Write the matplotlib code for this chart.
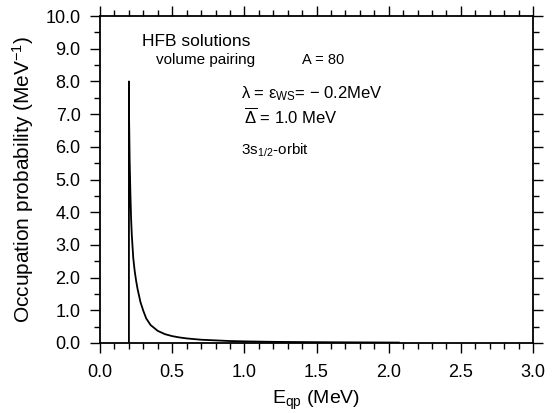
import matplotlib
matplotlib.use("Agg")
import matplotlib.pyplot as plt
from matplotlib.ticker import MultipleLocator, FormatStrFormatter

# occupation probability vs quasiparticle energy
e_qp = [0.200, 0.200, 0.201, 0.205, 0.210, 0.215, 0.220, 0.230, 0.240, 0.250,
        0.260, 0.280, 0.300, 0.320, 0.350, 0.400, 0.450, 0.500, 0.550, 0.600,
        0.700, 0.800, 0.900, 1.000, 1.200, 1.500, 1.800, 2.070]
occ = [0.0, 8.0, 6.9, 5.6, 4.6, 3.8, 3.3, 2.6, 2.2, 1.9,
       1.65, 1.25, 0.98, 0.75, 0.55, 0.37, 0.27, 0.21, 0.17, 0.14,
       0.10, 0.08, 0.06, 0.05, 0.035, 0.025, 0.018, 0.013]

plt.rcParams['font.family'] = ['Liberation Sans', 'DejaVu Sans']
plt.rcParams['mathtext.fontset'] = 'custom'
plt.rcParams['mathtext.rm'] = 'Liberation Sans'
plt.rcParams['mathtext.it'] = 'Liberation Sans'
plt.rcParams['mathtext.bf'] = 'Liberation Sans:bold'

fig = plt.figure(figsize=(5.59, 4.13), dpi=100)
ax = fig.add_axes([0.179, 0.1695, 0.7745, 0.7915])

ax.plot(e_qp, occ, color='black', lw=1.3)

ax.set_xlim(0, 3.0)
ax.set_ylim(0, 10.0)
ax.xaxis.set_major_locator(MultipleLocator(0.5))
ax.xaxis.set_minor_locator(MultipleLocator(0.1))
ax.yaxis.set_major_locator(MultipleLocator(1.0))
ax.yaxis.set_minor_locator(MultipleLocator(0.5))
ax.xaxis.set_major_formatter(FormatStrFormatter('%.1f'))
ax.yaxis.set_major_formatter(FormatStrFormatter('%.1f'))
ax.tick_params(which='both', direction='out', top=True, right=True,
               width=1.0, labelsize=13)
ax.tick_params(which='major', length=7)
ax.tick_params(which='minor', length=4)
ax.tick_params(axis='y', which='major', pad=7)
ax.tick_params(axis='x', which='major', pad=8)
for s in ax.spines.values():
    s.set_linewidth(1.3)

ax.set_xlabel(r'E$_{\rm qp}$ (MeV)', fontsize=14, labelpad=6)
ax.set_ylabel(r'Occupation probability (MeV$^{-1}$)', fontsize=15, labelpad=7)

ax.text(0.097, 0.922, 'HFB solutions', transform=ax.transAxes, fontsize=12.5,
        va='center')
ax.text(0.130, 0.866, 'volume pairing', transform=ax.transAxes, fontsize=11,
        va='center')
ax.text(0.467, 0.866, 'A = 80', transform=ax.transAxes, fontsize=10.5,
        va='center')
ax.text(0.325, 0.764, r'$\lambda$ = $\varepsilon_{\rm WS}$= $-$ 0.2MeV',
        transform=ax.transAxes, fontsize=12, va='center')
ax.text(0.333, 0.693, r'$\overline{\Delta}$ = 1.0 MeV', transform=ax.transAxes,
        fontsize=12, va='center')
ax.text(0.325, 0.588, r'3s$_{1/2}$-orbit', transform=ax.transAxes,
        fontsize=11, va='center')

fig.savefig('out.png', dpi=100)
